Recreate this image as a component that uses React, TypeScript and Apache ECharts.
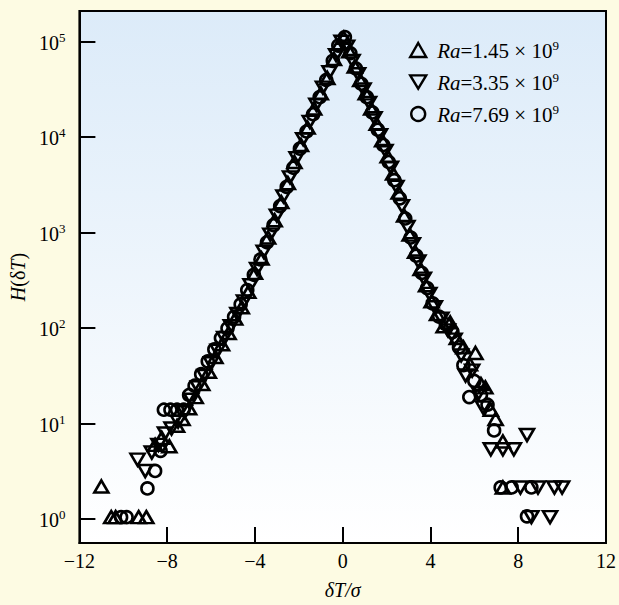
import React, { useEffect, useRef } from "react";
import * as echarts from "echarts";

// Ra = 1.45e9 (up triangles)
const xA = [-11.0, -10.55, -10.35, -9.3, -8.95, -8.55, -8.25, -7.9, -7.55, -7.3, -7.0, -6.7, -6.4, -6.1, -5.8, -5.5, -5.2, -4.9, -4.6, -4.3, -4.0, -3.7, -3.4, -3.1, -2.8, -2.5, -2.2, -1.9, -1.6, -1.3, -1.0, -0.7, -0.4, -0.15, 0.05, 0.3, 0.55, 0.8, 1.05, 1.3, 1.55, 1.8, 2.05, 2.3, 2.55, 2.8, 3.05, 3.3, 3.55, 3.8, 4.05, 4.3, 4.6, 4.9, 5.2, 5.5, 5.8, 6.05, 6.3, 6.5, 6.75, 6.97, 7.3, 7.3];
const yA = [2.2, 1.05, 1.05, 1.05, 1.05, 6.0, 7.1, 5.8, 9.5, 11.2, 14.5, 19, 26, 35, 50, 68, 89, 126, 166, 240, 380, 537, 890, 1350, 2090, 3310, 5500, 8300, 12600, 20000, 28800, 41700, 66000, 95500, 110000, 79400, 55000, 39800, 28800, 20000, 13800, 9300, 6300, 4170, 2630, 1510, 955, 631, 417, 282, 191, 141, 105, 115, 79, 63, 42, 55, 26, 24, 14, 11.2, 6.5, 2.15];

// Ra = 3.35e9 (down triangles)
const xB = [-9.35, -9.0, -8.7, -8.4, -8.1, -7.8, -7.5, -7.2, -6.9, -6.6, -6.3, -6.0, -5.7, -5.4, -5.1, -4.8, -4.5, -4.2, -3.9, -3.6, -3.3, -3.0, -2.7, -2.4, -2.1, -1.8, -1.5, -1.2, -0.9, -0.6, -0.3, -0.05, 0.2, 0.45, 0.7, 0.95, 1.2, 1.45, 1.7, 1.95, 2.2, 2.45, 2.7, 2.95, 3.2, 3.45, 3.7, 3.95, 4.2, 4.5, 4.8, 5.1, 5.4, 5.6, 5.9, 6.2, 6.4, 6.75, 7.3, 7.8, 8.4, 8.1, 8.9, 9.65, 10.0, 8.6, 9.45];
const yB = [4.2, 3.2, 5.0, 6.0, 7.9, 8.9, 10.5, 13.2, 17.8, 24, 31.6, 43, 58, 79, 105, 141, 191, 282, 417, 631, 955, 1510, 2400, 3800, 6030, 9550, 14500, 21900, 33100, 47900, 72400, 100000, 89000, 63000, 45700, 31600, 22900, 15800, 10500, 7200, 4800, 3020, 1900, 1150, 760, 500, 331, 229, 166, 126, 95, 76, 52, 32, 36, 21, 14.8, 5.4, 5.4, 5.4, 7.6, 2.15, 2.15, 2.15, 2.15, 1.05, 1.05];

// Ra = 7.69e9 (circles)
const xC = [-10.1, -9.85, -8.9, -8.55, -8.3, -8.15, -7.85, -7.55, -7.25, -7.0, -6.75, -6.45, -6.15, -5.85, -5.55, -5.25, -4.95, -4.65, -4.35, -4.05, -3.75, -3.45, -3.15, -2.85, -2.55, -2.25, -1.95, -1.65, -1.35, -1.05, -0.75, -0.45, -0.2, 0.1, 0.35, 0.6, 0.85, 1.1, 1.35, 1.6, 1.85, 2.1, 2.35, 2.6, 2.85, 3.1, 3.35, 3.6, 3.85, 4.1, 4.4, 4.7, 5.0, 5.3, 5.5, 5.77, 6.0, 6.3, 6.6, 6.9, 7.2, 7.7, 8.6, 8.4];
const yC = [1.05, 1.05, 2.1, 3.2, 5.2, 14, 14, 14, 14, 20, 25, 33, 45, 60, 79, 100, 132, 178, 251, 363, 525, 794, 1200, 1900, 3020, 4790, 7590, 11500, 17400, 26300, 39800, 63100, 91200, 112000, 75900, 52500, 36300, 26300, 18200, 12000, 8300, 5500, 3550, 2290, 1410, 891, 575, 380, 263, 182, 132, 110, 91, 63, 41, 19, 28, 20, 15.8, 8.5, 2.15, 2.15, 2.15, 1.07];

const raValues = ["1.45", "3.35", "7.69"];
const xTicks = [-12, -8, -4, 0, 4, 8, 12];

const FONT = "Liberation Serif";
const DOWN_TRI = "path://M0,0 L12,0 L6,10 Z";

export default function App() {
  const ref = useRef<HTMLDivElement>(null);
  useEffect(() => {
    document.body.style.margin = "0";
    if (!ref.current) return;
    const chart = echarts.init(ref.current, null, { renderer: "svg" });
    const hollow = { color: "rgba(0,0,0,0)", borderColor: "#000", borderWidth: 2.6, opacity: 1 };
    const symbols = ["triangle", DOWN_TRI, "circle"];
    const sizes: any[] = [[14, 12], [14, 12], 12];
    const xs = [xA, xB, xC];
    const ys = [yA, yB, yC];
    const series = raValues.map((ra, k) => ({
      type: "scatter",
      name: ra,
      symbol: symbols[k],
      symbolSize: sizes[k],
      itemStyle: hollow,
      data: xs[k].map((x, i) => [x, ys[k][i]]),
      z: 3 + k,
    }));
    chart.setOption({
      animation: false,
      backgroundColor: "#fdfbe3",
      grid: {
        left: 78,
        right: 7,
        top: 11,
        bottom: 58,
        show: true,
        borderColor: "#000",
        borderWidth: 2,
        backgroundColor: new echarts.graphic.LinearGradient(0, 0, 0, 1, [
          { offset: 0, color: "#dcebf9" },
          { offset: 1, color: "#ffffff" },
        ]),
      },
      legend: {
        orient: "vertical",
        left: 404,
        top: 34,
        itemGap: 10,
        itemWidth: 16,
        itemHeight: 14,
        data: raValues.map((ra, k) => ({
          name: ra,
          icon: symbols[k],
          itemStyle: { color: "rgba(0,0,0,0)", borderColor: "#000", borderWidth: 2.4, opacity: 1 },
        })),
        formatter: (name: string) => `{i|Ra}{r|=${name} × 10}{s|9}`,
        textStyle: {
          padding: [0, 0, 0, 6],
          rich: {
            i: { fontFamily: FONT, fontStyle: "italic", fontSize: 21, color: "#000", lineHeight: 22, verticalAlign: "bottom" },
            r: { fontFamily: FONT, fontSize: 21, color: "#000", lineHeight: 22, verticalAlign: "bottom" },
            s: { fontFamily: FONT, fontSize: 13, color: "#000", lineHeight: 13, verticalAlign: "top" },
          },
        },
      },
      xAxis: {
        type: "value",
        min: xTicks[0],
        max: xTicks[xTicks.length - 1],
        interval: 4,
        axisLine: { show: true, onZero: false, lineStyle: { color: "#000", width: 2 } },
        axisTick: { show: true, inside: true, length: 16, lineStyle: { color: "#000", width: 2 } },
        splitLine: { show: false },
        axisLabel: {
          fontFamily: FONT,
          fontSize: 20,
          color: "#000",
          margin: 8,
          formatter: (v: number) => String(v).replace("-", "\u2212"),
        },
        name: "δT/σ",
        nameLocation: "middle",
        nameGap: 37,
        nameTextStyle: { fontFamily: FONT, fontStyle: "italic", fontSize: 20, color: "#000" },
      },
      yAxis: {
        type: "log",
        logBase: 10,
        min: 0.563,
        max: 210000,
        axisLine: { show: true, onZero: false, lineStyle: { color: "#000", width: 2 } },
        axisTick: { show: true, inside: true, length: 16, lineStyle: { color: "#000", width: 2 } },
        minorTick: { show: false },
        splitLine: { show: false },
        axisLabel: {
          margin: 14,
          showMinLabel: false,
          showMaxLabel: false,
          formatter: (v: number) => `{b|10}{s|${Math.round(Math.log10(v))}}`,
          rich: {
            b: { fontFamily: FONT, fontSize: 20, color: "#000", lineHeight: 22, verticalAlign: "bottom" },
            s: { fontFamily: FONT, fontSize: 13, color: "#000", lineHeight: 12, verticalAlign: "top" },
          },
        },
        name: "{i|H}{r|(δ}{i|T}{r|)}",
        nameLocation: "middle",
        nameRotate: 90,
        nameGap: 50,
        nameTextStyle: {
          rich: {
            i: { fontFamily: FONT, fontStyle: "italic", fontSize: 20, color: "#000" },
            r: { fontFamily: FONT, fontSize: 20, color: "#000" },
          },
        },
      },
      series,
    });
    return () => chart.dispose();
  }, []);
  return <div ref={ref} style={{ width: 619, height: 605 }} />;
}
